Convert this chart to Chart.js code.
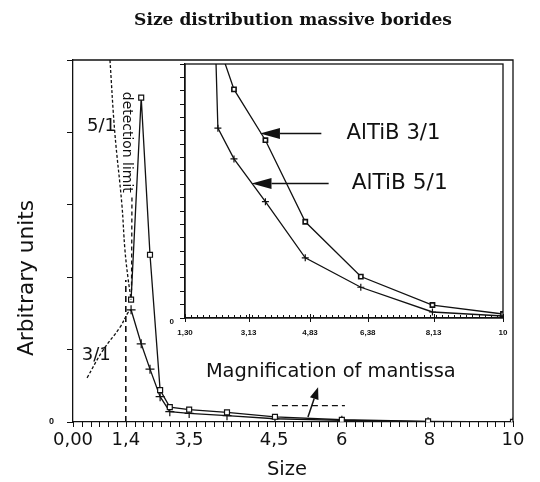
<!DOCTYPE html>
<html>
<head>
<meta charset="utf-8">
<script src="https://cdn.jsdelivr.net/npm/chart.js@4.4.1/dist/chart.umd.min.js"></script>
<style>
  html, body { margin: 0; padding: 0; background: #fff; }
  #wrap { position: relative; width: 540px; height: 482px; overflow: hidden; }
  #main { position: absolute; left: 0; top: 0; }
  #inset { position: absolute; left: 140px; top: 50px; }
</style>
</head>
<body>
<div id="wrap">
  <canvas id="main" width="540" height="482"></canvas>
  <canvas id="inset" width="380" height="300"></canvas>
</div>
<script>
// ---------- DATA ----------
const sizes   = [1.32, 1.55, 1.75, 1.98, 2.2, 2.64, 3.5, 4.59, 6.11, 8.07, 10];
const altib31 = [1.69, 4.48, 2.31, 0.44, 0.206, 0.171, 0.133, 0.072, 0.031, 0.0097, 0.003];
const altib51 = [1.55, 1.08, 0.73, 0.35, 0.142, 0.119, 0.087, 0.045, 0.023, 0.0045, 0.0015];

// detection-limit curves (dashed)
const limit51X = [0.84, 0.95, 1.11, 1.18, 1.25, 1.32];
const limit51Y = [5.0, 4.0, 3.01, 2.38, 1.99, 1.69];
const limit31X = [0.32, 0.68, 1.07, 1.25, 1.32];
const limit31Y = [0.61, 0.99, 1.31, 1.51, 1.55];
const detLimitX = [1.2, 1.2];
const detLimitY = [0, 1.96];
const limitTailX = [1.34, 1.33];
const limitTailY = [3.1, 1.82];
const mantissaX = [4.52, 6.18];
const mantissaY = [0.225, 0.225];

// tick labels
const mainTickPos    = [0, 1.2, 2.64, 4.57, 6.11, 8.1, 10];
const mainTickLabels = ['0,00', '1,4', '3,5', '4,5', '6', '8', '10'];
const insetTickPos    = [1.3, 3.04, 4.72, 6.3, 8.1, 10];
const insetTickLabels = ['1,30', '3,13', '4,83', '6,38', '8,13', '10'];

// ---------- HELPERS ----------
const BLACK = '#111';
const pts = (xs, ys) => xs.map((v, i) => ({ x: v, y: ys[i] }));

function fitFont(ctx, text, family, weight, targetW) {
  ctx.font = `${weight} 20px ${family}`;
  const w = ctx.measureText(text).width;
  const size = 20 * targetW / w;
  ctx.font = `${weight} ${size.toFixed(2)}px ${family}`;
}
function arrow(ctx, x1, y1, x2, y2, headLen, headW) {
  const ang = Math.atan2(y2 - y1, x2 - x1);
  const bx = x2 - headLen * Math.cos(ang), by = y2 - headLen * Math.sin(ang);
  ctx.beginPath(); ctx.moveTo(x1, y1); ctx.lineTo(bx, by); ctx.stroke();
  ctx.beginPath(); ctx.moveTo(x2, y2);
  ctx.lineTo(bx + headW * Math.sin(ang), by - headW * Math.cos(ang));
  ctx.lineTo(bx - headW * Math.sin(ang), by + headW * Math.cos(ang));
  ctx.closePath(); ctx.fill();
}

// ---------- MAIN CHART ----------
const mainMinor = Array.from({ length: 51 }, (_, i) => i * 0.2);

const mainDecor = {
  id: 'mainDecor',
  afterDraw(chart) {
    const { ctx, chartArea: a, scales: { x, y } } = chart;
    ctx.save();
    ctx.strokeStyle = BLACK; ctx.fillStyle = BLACK;
    // frame (top, right)
    ctx.lineWidth = 1.3;
    ctx.beginPath(); ctx.moveTo(a.left, a.top); ctx.lineTo(a.right, a.top); ctx.lineTo(a.right, a.bottom); ctx.stroke();
    // minor x ticks
    ctx.lineWidth = 1;
    mainMinor.forEach(v => {
      const px = Math.round(x.getPixelForValue(v)) + 0.5;
      ctx.beginPath(); ctx.moveTo(px, a.bottom); ctx.lineTo(px, a.bottom + 5); ctx.stroke();
    });
    // title
    ctx.textAlign = 'center'; ctx.textBaseline = 'alphabetic';
    fitFont(ctx, 'Size distribution massive borides', "'DejaVu Serif'", 'bold', 318);
    ctx.fillText('Size distribution massive borides', 293, 25);
    // x title
    fitFont(ctx, 'Size', "'DejaVu Sans'", 'normal', 40);
    ctx.fillText('Size', 287, 475);
    // y title
    ctx.save();
    ctx.translate(33, 278); ctx.rotate(-Math.PI / 2);
    fitFont(ctx, 'Arbitrary units', "'DejaVu Sans'", 'normal', 156);
    ctx.fillText('Arbitrary units', 0, 0);
    ctx.restore();
    // curve labels
    ctx.textAlign = 'left';
    ctx.font = "18px 'DejaVu Sans'";
    ctx.fillText('5/1', x.getPixelForValue(0.32), y.getPixelForValue(4.02));
    ctx.fillText('3/1', x.getPixelForValue(0.2), y.getPixelForValue(0.86));
    // detection limit (rotated clockwise)
    ctx.save();
    ctx.translate(x.getPixelForValue(1.125), y.getPixelForValue(4.56)); ctx.rotate(Math.PI / 2);
    ctx.textBaseline = 'alphabetic';
    fitFont(ctx, 'detection limit', "'DejaVu Sans'", 'normal', 101);
    ctx.fillText('detection limit', 0, 0);
    ctx.restore();
    // magnification
    fitFont(ctx, 'Magnification of mantissa', "'DejaVu Sans'", 'normal', 250);
    ctx.fillText('Magnification of mantissa', x.getPixelForValue(3.02), y.getPixelForValue(0.626));
    ctx.lineWidth = 1.5;
    arrow(ctx, x.getPixelForValue(5.34), y.getPixelForValue(0.07), x.getPixelForValue(5.57), y.getPixelForValue(0.48), 12, 4.5);
    ctx.restore();
  }
};

const dashStyle = (dash, w) => ({ showLine: true, borderColor: BLACK, borderWidth: w, borderDash: dash, pointRadius: 0, fill: false });

new Chart(document.getElementById('main'), {
  type: 'scatter',
  data: {
    datasets: [
      { label: 'limit 5/1', data: pts(limit51X, limit51Y), ...dashStyle([3, 2], 1.3), tension: 0.4 },
      { label: 'limit 3/1', data: pts(limit31X, limit31Y), ...dashStyle([3, 2], 1.3), tension: 0.4 },
      { label: 'detection limit', data: pts(detLimitX, detLimitY), ...dashStyle([6, 4], 1.6) },
      { label: 'limit tail', data: pts(limitTailX, limitTailY), ...dashStyle([4, 3], 1.3) },
      { label: 'mantissa', data: pts(mantissaX, mantissaY), ...dashStyle([6, 4], 1.3) },
      { label: 'AlTiB 3/1', data: pts(sizes, altib31), showLine: true, borderColor: BLACK, borderWidth: 1.3,
        pointStyle: 'rect', pointRadius: 3.5, pointBackgroundColor: '#fff', pointBorderColor: BLACK, pointBorderWidth: 1.2 },
      { label: 'AlTiB 5/1', data: pts(sizes, altib51), showLine: true, borderColor: BLACK, borderWidth: 1.3,
        pointStyle: 'cross', pointRadius: 4.5, pointBorderColor: BLACK, pointBorderWidth: 1.2 }
    ]
  },
  options: {
    responsive: false, animation: false, devicePixelRatio: 1,
    layout: { padding: { top: 60, right: 27, left: 0, bottom: 0 } },
    plugins: { legend: { display: false }, tooltip: { enabled: false }, title: { display: false } },
    scales: {
      x: {
        type: 'linear', min: 0, max: 10,
        afterBuildTicks: s => { s.ticks = mainTickPos.map(v => ({ value: v })); },
        ticks: { autoSkip: false, maxRotation: 0, color: BLACK, padding: 8,
                 font: { family: "'DejaVu Sans'", size: 18 },
                 callback: (v, i) => mainTickLabels[i] },
        grid: { display: false, drawTicks: false },
        border: { color: BLACK, width: 1.3 },
        afterFit: s => { s.height = 60; }
      },
      y: {
        type: 'linear', min: 0, max: 5,
        ticks: { stepSize: 1, autoSkip: false, color: BLACK, padding: 13,
                 font: { family: "'Liberation Sans'", weight: 'bold', size: 9 },
                 callback: v => (v === 0 ? '0' : '') },
        grid: { drawOnChartArea: false, tickLength: 6, color: BLACK, lineWidth: 1 },
        border: { color: BLACK, width: 1.3 },
        afterFit: s => { s.width = 73; }
      }
    }
  },
  plugins: [mainDecor]
});

// ---------- INSET CHART ----------
const insetMinor = Array.from({ length: 53 }, (_, i) => 1.3 + i * (8.7 / 52));

const insetDecor = {
  id: 'insetDecor',
  afterDraw(chart) {
    const { ctx, chartArea: a, scales: { x, y } } = chart;
    ctx.save();
    ctx.strokeStyle = BLACK; ctx.fillStyle = BLACK;
    ctx.lineWidth = 1.3;
    ctx.strokeRect(a.left, a.top, a.right - a.left, a.bottom - a.top);
    ctx.lineWidth = 1;
    insetMinor.forEach(v => {
      const px = Math.round(x.getPixelForValue(v)) + 0.5;
      ctx.beginPath(); ctx.moveTo(px, a.bottom); ctx.lineTo(px, a.bottom - 3); ctx.stroke();
    });
    insetTickPos.forEach(v => {
      const px = Math.round(x.getPixelForValue(v)) + 0.5;
      ctx.beginPath(); ctx.moveTo(px, a.bottom - 4); ctx.lineTo(px, a.bottom + 4); ctx.stroke();
    });
    // arrows + labels
    ctx.lineWidth = 1.5;
    arrow(ctx, x.getPixelForValue(5.03), y.getPixelForValue(0.138), x.getPixelForValue(3.35), y.getPixelForValue(0.138), 20, 5.5);
    arrow(ctx, x.getPixelForValue(5.23), y.getPixelForValue(0.1006), x.getPixelForValue(3.12), y.getPixelForValue(0.1006), 20, 5.5);
    ctx.textAlign = 'left'; ctx.textBaseline = 'middle';
    fitFont(ctx, 'AlTiB 3/1', "'DejaVu Sans'", 'normal', 94);
    ctx.fillText('AlTiB 3/1', x.getPixelForValue(5.72), y.getPixelForValue(0.138));
    fitFont(ctx, 'AlTiB 5/1', "'DejaVu Sans'", 'normal', 96);
    ctx.fillText('AlTiB 5/1', x.getPixelForValue(5.86), y.getPixelForValue(0.1006));
    ctx.restore();
  }
};

new Chart(document.getElementById('inset'), {
  type: 'scatter',
  data: {
    datasets: [
      { label: 'AlTiB 3/1', data: pts(sizes, altib31), showLine: true, borderColor: BLACK, borderWidth: 1.3,
        pointStyle: 'rect', pointRadius: 3, pointBackgroundColor: '#fff', pointBorderColor: BLACK, pointBorderWidth: 1.6 },
      { label: 'AlTiB 5/1', data: pts(sizes, altib51), showLine: true, borderColor: BLACK, borderWidth: 1.3,
        pointStyle: 'cross', pointRadius: 3.5, pointBorderColor: BLACK, pointBorderWidth: 1.2 }
    ]
  },
  options: {
    responsive: false, animation: false, devicePixelRatio: 1,
    layout: { padding: { top: 14, right: 17, left: 0, bottom: 0 } },
    plugins: { legend: { display: false }, tooltip: { enabled: false } },
    scales: {
      x: {
        type: 'linear', min: 1.3, max: 10,
        afterBuildTicks: s => { s.ticks = insetTickPos.map(v => ({ value: v })); },
        ticks: { autoSkip: false, maxRotation: 0, color: BLACK, padding: 10,
                 font: { family: "'Liberation Sans'", weight: 'bold', size: 8 },
                 callback: (v, i) => insetTickLabels[i] },
        grid: { display: false, drawTicks: false },
        border: { color: BLACK, width: 1.3 },
        afterFit: s => { s.height = 32; }
      },
      y: {
        type: 'linear', min: 0, max: 0.19,
        ticks: { stepSize: 0.01, maxTicksLimit: 100, autoSkip: false, color: BLACK, padding: 6, labelOffset: 4,
                 font: { family: "'Liberation Sans'", weight: 'bold', size: 8 },
                 callback: v => (Math.abs(v) < 1e-9 ? '0' : '') },
        grid: { drawOnChartArea: false, tickLength: 5, color: BLACK, lineWidth: 1 },
        border: { color: BLACK, width: 1.3 },
        afterFit: s => { s.width = 45; }
      }
    }
  },
  plugins: [insetDecor]
});
</script>
</body>
</html>
